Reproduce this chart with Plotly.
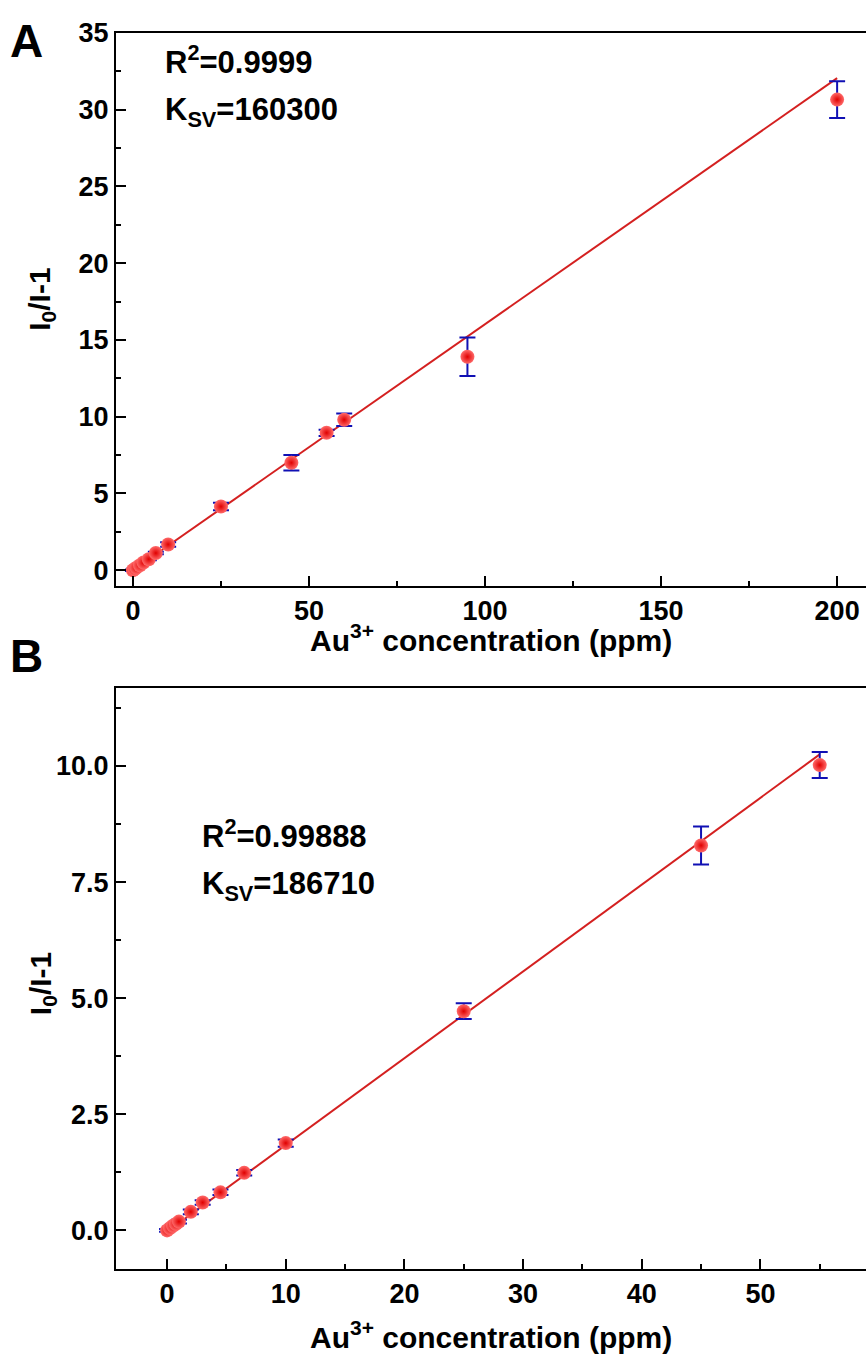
import plotly.graph_objects as go

# ---------------- Data ----------------
# Panel A
a_conc = [0, 0.5, 1, 2, 3, 4.5, 6.5, 10, 25, 45, 55, 60, 95, 200]
a_val = [0.0, 0.08, 0.17, 0.33, 0.5, 0.72, 1.12, 1.68, 4.15, 7.0, 8.95, 9.8, 13.9, 30.65]
a_err = [0.05, 0.05, 0.05, 0.06, 0.06, 0.07, 0.08, 0.15, 0.25, 0.5, 0.2, 0.4, 1.25, 1.2]
a_fit_x = [0, 200]
a_fit_y = [0.0, 32.05]
a_xticks = [0, 50, 100, 150, 200]
a_yticks = [0, 5, 10, 15, 20, 25, 30, 35]

# Panel B
b_conc = [0, 0.25, 0.5, 0.75, 1, 2, 3, 4.5, 6.5, 10, 25, 45, 55]
b_val = [0.0, 0.05, 0.1, 0.14, 0.19, 0.4, 0.6, 0.82, 1.24, 1.88, 4.72, 8.29, 10.02]
b_err = [0.03, 0.03, 0.03, 0.03, 0.04, 0.05, 0.05, 0.06, 0.06, 0.08, 0.17, 0.41, 0.28]
b_fit_x = [0, 55]
b_fit_y = [-0.03, 10.25]
b_xticks = [0, 10, 20, 30, 40, 50]
b_yticks = [0, 2.5, 5, 7.5, 10]
b_yticklabels = ["0.0", "2.5", "5.0", "7.5", "10.0"]

FONT = "Liberation Sans"
BLUE = "#1010b4"
W, H = 866, 1354

fig = go.Figure()

def add_panel(xs, ys, es, fx, fy, xa, ya):
    fig.add_trace(go.Scatter(x=fx, y=fy, mode="lines", line=dict(color="#d42020", width=2),
                             xaxis=xa, yaxis=ya, showlegend=False, hoverinfo="skip"))
    fig.add_trace(go.Scatter(x=xs, y=ys, mode="markers",
                             error_y=dict(type="data", array=es, color=BLUE, thickness=2, width=8),
                             marker=dict(size=14, color="#ff6a6a",
                                         gradient=dict(type="radial", color="#e00000"),
                                         line=dict(width=0)),
                             xaxis=xa, yaxis=ya, showlegend=False))

add_panel(a_conc, a_val, a_err, a_fit_x, a_fit_y, "x", "y")
add_panel(b_conc, b_val, b_err, b_fit_x, b_fit_y, "x2", "y2")

tickfont = dict(family=FONT, size=27, color="black", weight="bold")
titlefont = dict(family=FONT, size=30, color="black", weight="bold")
minor_common = dict(ticks="inside", ticklen=5, tickwidth=2, tickcolor="black")
common = dict(showline=True, linecolor="black", linewidth=2, ticks="inside", ticklen=10,
              tickwidth=2, tickcolor="black", showgrid=False, zeroline=False, tickfont=tickfont)

fig.update_layout(
    width=W, height=H,
    margin=dict(l=0, r=0, t=0, b=0),
    paper_bgcolor="white", plot_bgcolor="white",
    xaxis=dict(domain=[0.134, 1.0], range=[-4.8, 208.2], anchor="y", mirror=True,
               tickvals=a_xticks, minor=dict(tickvals=[25, 75, 125, 175], **minor_common),
               **common),
    yaxis=dict(domain=[1 - 577 / H, 1 - 18 / H], range=[-1.0, 35], anchor="x",
               tickvals=a_yticks, minor=dict(tickvals=[2.5, 7.5, 12.5, 17.5, 22.5, 27.5, 32.5], **minor_common),
               **common),
    xaxis2=dict(domain=[0.134, 1.0], range=[-4.3, 58.9], anchor="y2", mirror=True,
                tickvals=b_xticks, minor=dict(tickvals=[5, 15, 25, 35, 45, 55], **minor_common),
                **common),
    yaxis2=dict(domain=[1 - 1268 / H, 1 - 681 / H], range=[-0.83, 11.67], anchor="x2",
                tickvals=b_yticks, ticktext=b_yticklabels,
                minor=dict(tickvals=[1.25, 3.75, 6.25, 8.75, 11.25], **minor_common),
                **common),
)

annfont = dict(family=FONT, size=31, color="black", weight="bold")
letterfont = dict(family=FONT, size=46, color="black", weight="bold")
xtitle = "Au<sup>3+</sup> concentration (ppm)"
ytitle = "I<sub>0</sub>/I-1"
anns = [
    dict(text="A", x=8, y=26, font=letterfont, xanchor="left"),
    dict(text="B", x=8, y=648, font=letterfont, xanchor="left"),
    dict(text="R<sup>2</sup>=0.9999", x=163, y=46, font=annfont, xanchor="left"),
    dict(text="K<sub>SV</sub>=160300", x=163, y=98, font=annfont, xanchor="left"),
    dict(text="R<sup>2</sup>=0.99888", x=200, y=828, font=annfont, xanchor="left"),
    dict(text="K<sub>SV</sub>=186710", x=200, y=881, font=annfont, xanchor="left"),
    dict(text=xtitle, x=491, y=630, font=titlefont, xanchor="center"),
    dict(text=xtitle, x=491, y=1335, font=titlefont, xanchor="center"),
    dict(text=ytitle, x=42, y=288, font=titlefont, xanchor="center", textangle=-90),
    dict(text=ytitle, x=42, y=980, font=titlefont, xanchor="center", textangle=-90),
]
for a in anns:
    fig.add_annotation(text=a["text"], x=a["x"] / W, y=1 - a["y"] / H, xref="paper", yref="paper",
                       xanchor=a["xanchor"], yanchor="middle", showarrow=False, font=a["font"],
                       textangle=a.get("textangle", 0))

fig.write_html("out.html", config={"displayModeBar": False},
               post_script="document.body.style.margin='0';document.body.style.padding='0';")
